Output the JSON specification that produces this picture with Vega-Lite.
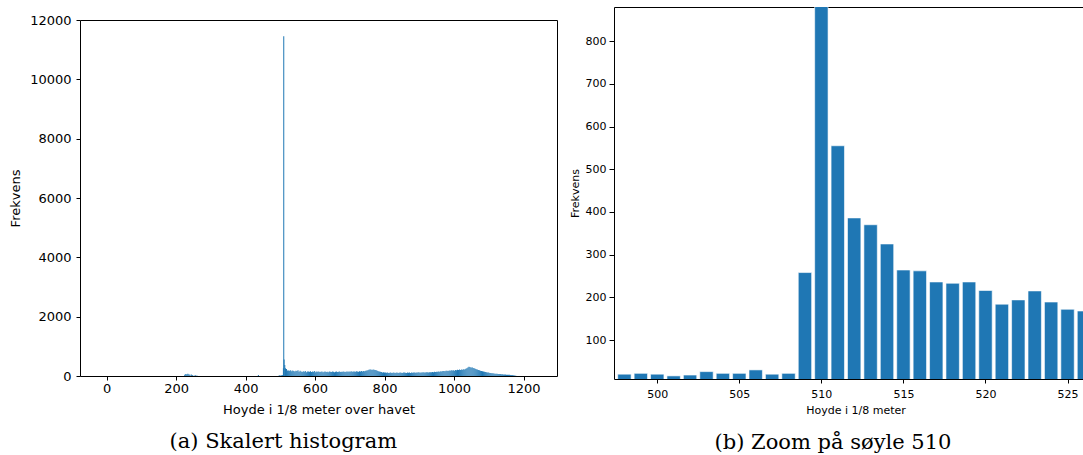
{
  "$schema": "https://vega.github.io/schema/vega-lite/v6.json",
  "padding": {"left": 9, "top": 6, "right": 0, "bottom": 0},
  "background": "white",
  "spacing": 10,
  "config": {
    "view": {"stroke": "black", "strokeWidth": 1},
    "axis": {"grid": false, "domain": false, "tickColor": "black", "labelColor": "black", "titleColor": "black", "labelFont": "DejaVu Sans", "titleFont": "DejaVu Sans", "titleFontWeight": "normal"},
    "title": {"font": "DejaVu Serif", "fontWeight": "normal", "fontSize": 21, "color": "black"}
  },
  "datasets": {
    "zoom": [
      {"h": 498, "n": 20}, {"h": 499, "n": 22}, {"h": 500, "n": 20}, {"h": 501, "n": 16}, {"h": 502, "n": 18},
      {"h": 503, "n": 26}, {"h": 504, "n": 22}, {"h": 505, "n": 22}, {"h": 506, "n": 30}, {"h": 507, "n": 20},
      {"h": 508, "n": 22}, {"h": 509, "n": 258}, {"h": 510, "n": 11450}, {"h": 511, "n": 555}, {"h": 512, "n": 386},
      {"h": 513, "n": 370}, {"h": 514, "n": 325}, {"h": 515, "n": 264}, {"h": 516, "n": 262}, {"h": 517, "n": 236},
      {"h": 518, "n": 233}, {"h": 519, "n": 236}, {"h": 520, "n": 216}, {"h": 521, "n": 184}, {"h": 522, "n": 194},
      {"h": 523, "n": 215}, {"h": 524, "n": 189}, {"h": 525, "n": 172}, {"h": 526, "n": 168}
    ],
    "spacer": [],
    "full": [
      {"h": 225, "n": 40}, {"h": 228, "n": 70}, {"h": 231, "n": 55}, {"h": 234, "n": 80}, {"h": 237, "n": 60},
      {"h": 240, "n": 45}, {"h": 244, "n": 50}, {"h": 248, "n": 30}, {"h": 255, "n": 35}, {"h": 260, "n": 20},
      {"h": 437, "n": 30}, {"h": 497, "n": 25}, {"h": 500, "n": 20}, {"h": 503, "n": 26}, {"h": 506, "n": 30},
      {"h": 509, "n": 258}, {"h": 510, "n": 11450}, {"h": 511, "n": 555}, {"h": 513, "n": 370},
      {"h": 515, "n": 264}, {"h": 518, "n": 233}, {"h": 521, "n": 184}, {"h": 524, "n": 189}, {"h": 527, "n": 175},
      {"h": 530, "n": 190}, {"h": 533, "n": 160}, {"h": 536, "n": 185}, {"h": 539, "n": 170}, {"h": 542, "n": 150},
      {"h": 545, "n": 180}, {"h": 548, "n": 165}, {"h": 551, "n": 190}, {"h": 554, "n": 140}, {"h": 557, "n": 175},
      {"h": 560, "n": 150}, {"h": 563, "n": 135}, {"h": 566, "n": 160}, {"h": 569, "n": 145}, {"h": 572, "n": 170},
      {"h": 575, "n": 130}, {"h": 578, "n": 155}, {"h": 581, "n": 150}, {"h": 584, "n": 140}, {"h": 587, "n": 160},
      {"h": 590, "n": 135}, {"h": 593, "n": 150}, {"h": 596, "n": 145}, {"h": 599, "n": 165}, {"h": 602, "n": 130},
      {"h": 605, "n": 150}, {"h": 608, "n": 140}, {"h": 611, "n": 155}, {"h": 614, "n": 135}, {"h": 617, "n": 145},
      {"h": 620, "n": 150}, {"h": 623, "n": 130}, {"h": 626, "n": 140}, {"h": 629, "n": 155}, {"h": 632, "n": 135},
      {"h": 635, "n": 145}, {"h": 638, "n": 130}, {"h": 641, "n": 150}, {"h": 644, "n": 140}, {"h": 647, "n": 135},
      {"h": 650, "n": 150}, {"h": 653, "n": 140}, {"h": 656, "n": 130}, {"h": 659, "n": 145}, {"h": 662, "n": 150},
      {"h": 665, "n": 135}, {"h": 668, "n": 140}, {"h": 671, "n": 155}, {"h": 674, "n": 135}, {"h": 677, "n": 145},
      {"h": 680, "n": 140}, {"h": 683, "n": 150}, {"h": 686, "n": 135}, {"h": 689, "n": 145}, {"h": 692, "n": 155},
      {"h": 695, "n": 140}, {"h": 698, "n": 150}, {"h": 701, "n": 145}, {"h": 704, "n": 160}, {"h": 707, "n": 140},
      {"h": 710, "n": 150}, {"h": 713, "n": 155}, {"h": 716, "n": 145}, {"h": 719, "n": 160}, {"h": 722, "n": 150},
      {"h": 725, "n": 145}, {"h": 728, "n": 160}, {"h": 731, "n": 155}, {"h": 734, "n": 165}, {"h": 737, "n": 150},
      {"h": 740, "n": 170}, {"h": 743, "n": 160}, {"h": 746, "n": 175}, {"h": 749, "n": 185}, {"h": 752, "n": 195},
      {"h": 755, "n": 210}, {"h": 758, "n": 220}, {"h": 761, "n": 215}, {"h": 764, "n": 205}, {"h": 767, "n": 220},
      {"h": 770, "n": 210}, {"h": 773, "n": 200}, {"h": 776, "n": 190}, {"h": 779, "n": 175}, {"h": 782, "n": 160},
      {"h": 785, "n": 150}, {"h": 788, "n": 140}, {"h": 791, "n": 135}, {"h": 794, "n": 120}, {"h": 797, "n": 125},
      {"h": 800, "n": 115}, {"h": 803, "n": 120}, {"h": 806, "n": 110}, {"h": 809, "n": 115}, {"h": 812, "n": 105},
      {"h": 815, "n": 110}, {"h": 818, "n": 120}, {"h": 821, "n": 105}, {"h": 824, "n": 110}, {"h": 827, "n": 115},
      {"h": 830, "n": 105}, {"h": 833, "n": 110}, {"h": 836, "n": 120}, {"h": 839, "n": 105}, {"h": 842, "n": 110},
      {"h": 845, "n": 115}, {"h": 848, "n": 110}, {"h": 851, "n": 105}, {"h": 854, "n": 115}, {"h": 857, "n": 120},
      {"h": 860, "n": 110}, {"h": 863, "n": 105}, {"h": 866, "n": 115}, {"h": 869, "n": 110}, {"h": 872, "n": 120},
      {"h": 875, "n": 105}, {"h": 878, "n": 115}, {"h": 881, "n": 110}, {"h": 884, "n": 120}, {"h": 887, "n": 115},
      {"h": 890, "n": 110}, {"h": 893, "n": 120}, {"h": 896, "n": 115}, {"h": 899, "n": 125}, {"h": 902, "n": 110},
      {"h": 905, "n": 120}, {"h": 908, "n": 115}, {"h": 911, "n": 125}, {"h": 914, "n": 120}, {"h": 917, "n": 115},
      {"h": 920, "n": 125}, {"h": 923, "n": 130}, {"h": 926, "n": 120}, {"h": 929, "n": 125}, {"h": 932, "n": 130},
      {"h": 935, "n": 125}, {"h": 938, "n": 135}, {"h": 941, "n": 130}, {"h": 944, "n": 140}, {"h": 947, "n": 135},
      {"h": 950, "n": 145}, {"h": 953, "n": 140}, {"h": 956, "n": 150}, {"h": 959, "n": 145}, {"h": 962, "n": 160},
      {"h": 965, "n": 155}, {"h": 968, "n": 165}, {"h": 971, "n": 170}, {"h": 974, "n": 160}, {"h": 977, "n": 175},
      {"h": 980, "n": 180}, {"h": 983, "n": 170}, {"h": 986, "n": 185}, {"h": 989, "n": 175}, {"h": 992, "n": 190},
      {"h": 995, "n": 185}, {"h": 998, "n": 195}, {"h": 1001, "n": 180}, {"h": 1004, "n": 200}, {"h": 1007, "n": 190},
      {"h": 1010, "n": 210}, {"h": 1013, "n": 200}, {"h": 1016, "n": 215}, {"h": 1019, "n": 205}, {"h": 1022, "n": 220},
      {"h": 1025, "n": 210}, {"h": 1028, "n": 230}, {"h": 1031, "n": 220}, {"h": 1034, "n": 245}, {"h": 1037, "n": 260},
      {"h": 1040, "n": 290}, {"h": 1043, "n": 310}, {"h": 1046, "n": 300}, {"h": 1049, "n": 280}, {"h": 1052, "n": 295},
      {"h": 1055, "n": 270}, {"h": 1058, "n": 260}, {"h": 1061, "n": 245}, {"h": 1064, "n": 230}, {"h": 1067, "n": 220},
      {"h": 1070, "n": 205}, {"h": 1073, "n": 190}, {"h": 1076, "n": 180}, {"h": 1079, "n": 170}, {"h": 1082, "n": 160},
      {"h": 1085, "n": 150}, {"h": 1088, "n": 145}, {"h": 1091, "n": 135}, {"h": 1094, "n": 130}, {"h": 1097, "n": 120},
      {"h": 1100, "n": 115}, {"h": 1103, "n": 105}, {"h": 1106, "n": 100}, {"h": 1109, "n": 95}, {"h": 1112, "n": 90},
      {"h": 1115, "n": 85}, {"h": 1118, "n": 80}, {"h": 1121, "n": 78}, {"h": 1124, "n": 75}, {"h": 1127, "n": 70},
      {"h": 1130, "n": 68}, {"h": 1133, "n": 65}, {"h": 1136, "n": 60}, {"h": 1139, "n": 55}, {"h": 1142, "n": 52},
      {"h": 1145, "n": 50}, {"h": 1148, "n": 48}, {"h": 1151, "n": 45}, {"h": 1154, "n": 42}, {"h": 1157, "n": 40},
      {"h": 1160, "n": 38}, {"h": 1163, "n": 35}, {"h": 1166, "n": 32}, {"h": 1169, "n": 30}, {"h": 1172, "n": 25},
      {"h": 1175, "n": 20}, {"h": 1178, "n": 12}
    ]
  },
  "hconcat": [
    {
      "title": {"text": "(a) Skalert histogram", "orient": "bottom", "frame": "bounds", "anchor": "middle", "offset": 14},
      "spacing": 0,
      "vconcat": [
        {
          "width": 477,
          "height": 6,
          "view": {"stroke": null},
          "data": {"name": "spacer"},
          "mark": {"type": "point"},
          "encoding": {}
        },
        {
          "width": 477,
          "height": 356,
          "data": {"name": "full"},
          "mark": {"type": "bar", "size": 1, "color": "#1f77b4", "clip": true},
          "encoding": {
            "x": {
              "field": "h", "type": "quantitative",
              "scale": {"domain": [-62, 1282], "nice": false, "zero": false},
              "axis": {"values": [0, 200, 400, 600, 800, 1000, 1200], "format": "d", "title": "Hoyde i 1/8 meter over havet", "labelFontSize": 13, "titleFontSize": 13, "tickSize": 4, "labelPadding": 2, "titlePadding": 8}
            },
            "y": {
              "field": "n", "type": "quantitative",
              "scale": {"domain": [0, 12000], "nice": false},
              "axis": {"values": [0, 2000, 4000, 6000, 8000, 10000, 12000], "format": "d", "title": "Frekvens", "labelFontSize": 13, "titleFontSize": 13, "tickSize": 4, "labelPadding": 5, "titlePadding": 7}
            }
          }
        }
      ]
    },
    {
      "width": 483,
      "height": 372,
      "title": {"text": "(b) Zoom på søyle 510", "orient": "bottom", "frame": "bounds", "anchor": "middle", "offset": 17},
      "data": {"name": "zoom"},
      "mark": {"type": "bar", "size": 13.4, "color": "#1f77b4", "stroke": "white", "strokeWidth": 0.6, "clip": true},
      "encoding": {
        "x": {
          "field": "h", "type": "quantitative",
          "scale": {"domain": [497.67, 526.49], "nice": false, "zero": false},
          "axis": {"values": [500, 505, 510, 515, 520, 525], "title": "Hoyde i 1/8 meter", "labelFontSize": 11, "titleFontSize": 11, "tickSize": 4, "labelPadding": 5, "titlePadding": 5}
        },
        "y": {
          "field": "n", "type": "quantitative",
          "scale": {"domain": [8.7, 880], "nice": false, "zero": false},
          "axis": {"values": [100, 200, 300, 400, 500, 600, 700, 800], "title": "Frekvens", "labelFontSize": 11, "titleFontSize": 11, "tickSize": 5, "labelPadding": 3, "titlePadding": 5}
        }
      }
    }
  ]
}
